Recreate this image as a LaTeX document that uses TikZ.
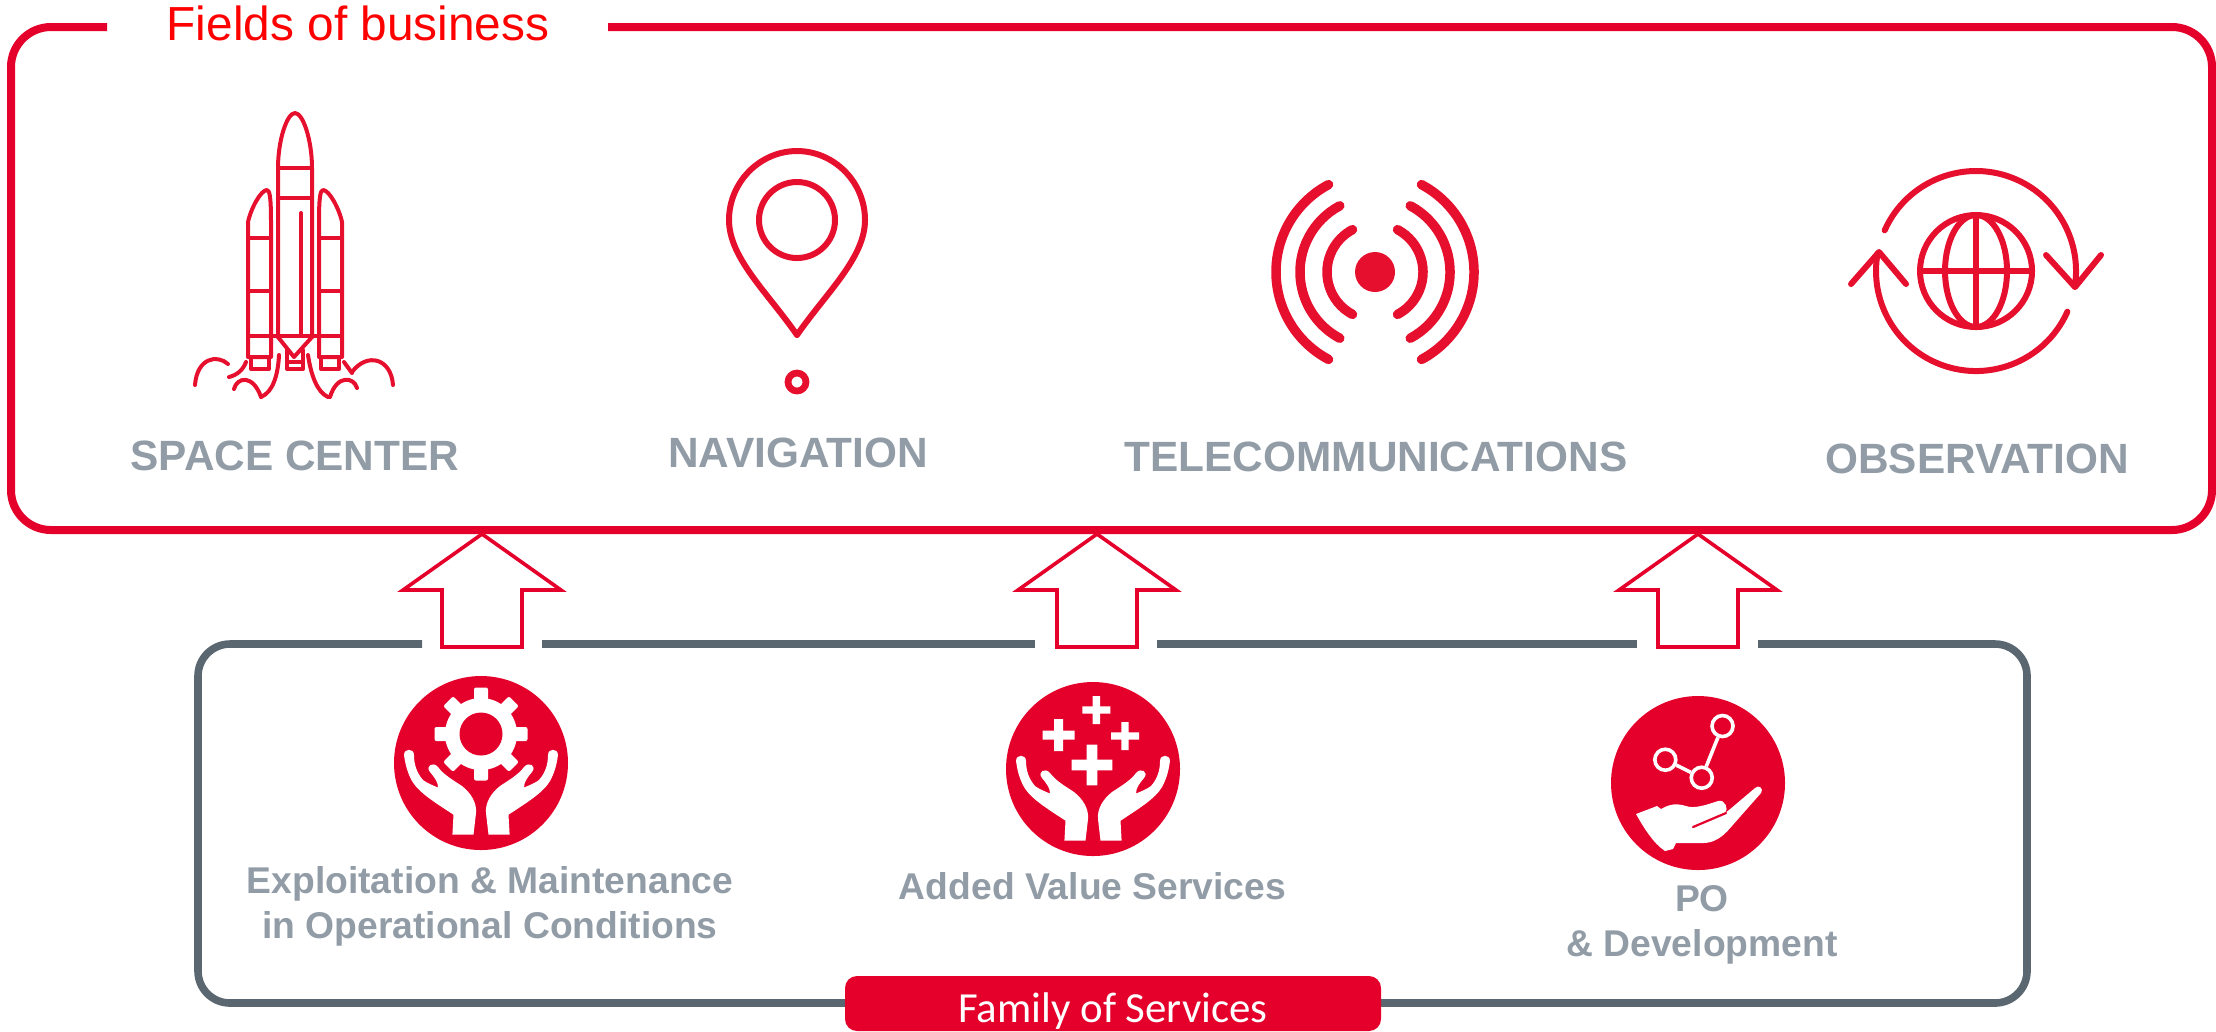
\documentclass[tikz,border=0pt]{standalone}
\usepackage{fontspec}
\setmainfont{Liberation Sans}
\newfontfamily\calibrifont{Carlito}
\usepackage{tikz}
\definecolor{brandred}{HTML}{E4002B}
\definecolor{iconred}{HTML}{E60F2D}
\definecolor{framegrey}{HTML}{5B6770}
\definecolor{labelgrey}{HTML}{919CA6}
\newcommand\uparrowblock[1]{%
\draw[arrowline] (#1) ++(0,0) -- ++(79,56) -- ++(-39,0) -- ++(0,57) -- ++(-80,0) -- ++(0,-57) -- ++(-39,0) -- cycle;
}
\newcommand\openhand{%
\fill[white] (-28.6,71.7) -- (-27.5,51.7) .. controls (-45,40) and (-62,30) .. (-69,18) .. controls (-75,7) and (-76,-2) .. (-77,-8) .. controls (-77,-15) and (-67,-15) .. (-67,-8) .. controls (-67,2) and (-64,10) .. (-58,17) .. controls (-54,20) and (-49,22) .. (-43,24.5) .. controls (-43,19) and (-46,15) .. (-51,9) .. controls (-56,3) and (-48,-2) .. (-43,4) .. controls (-37,12) and (-28,17) .. (-19,23) .. controls (-10,30) and (-4,40) .. (-5,50) -- (-7.5,71.7) -- cycle;
}
\newcommand\twohands{%
\openhand
\begin{scope}[xscale=-1]\openhand\end{scope}
}
\newcommand\plussign[3]{%
\fill[white,shift={(#1)}] (-#2,-#3) rectangle (#2,#3) (-#3,-#2) rectangle (#3,#2);
}
\newcommand\booster[1]{%
\begin{scope}[xscale=#1]
	\draw[iconline] (-47,222) .. controls (-44,208) and (-34,190) .. (-28,190) .. controls (-25,190) and (-24,200) .. (-24,222) -- (-24,357) -- (-47,357) -- cycle;
	\draw[iconline] (-47,238) -- (-24,238) (-47,291) -- (-24,291);
	\draw[iconline] (-44,357) -- (-44,369) -- (-26,369) -- (-26,357);
\end{scope}
}

\begin{document}
\begin{tikzpicture}[x=0.1mm,y=-0.1mm,
	redframe/.style={draw=brandred,line width=0.8mm},
	greyframe/.style={draw=framegrey,line width=0.76mm},
	arrowline/.style={draw=brandred,fill=white,line width=0.36mm,line join=miter},
	iconline/.style={draw=iconred,line width=0.4mm,line cap=round,line join=round},
	wideline/.style={draw=iconred,line width=0.6mm,line cap=round,line join=round},
	waveline/.style={draw=iconred,line width=0.95mm,line cap=round},
	fieldlabel/.style={anchor=base,inner sep=0pt,text=labelgrey,font=\bfseries\fontsize{12.05}{14}\selectfont},
	servicelabel/.style={anchor=base,inner sep=0pt,text=labelgrey,align=center,font=\bfseries\fontsize{10.6}{12.63}\selectfont},
	ringnode/.style={circle,draw=white,line width=0.36mm,inner sep=0pt,minimum size=2.1mm}]
	\useasboundingbox (0,0) rectangle (2216,1031);
	
	% block arrows first, the frames go over their tips
	\uparrowblock{482,534}
	\uparrowblock{1097,534}
	\uparrowblock{1698,534}
	
	%% frames
	\draw[redframe,rounded corners=4mm] (107,27) -- (11,27) -- (11,530) -- (2212,530) -- (2212,27) -- (608,27);
	\node[anchor=base,inner sep=0pt,text=red,font=\fontsize{13.6}{16}\selectfont] (fieldstitle) at (358,40.6) {Fields of business};
	\draw[greyframe,rounded corners=3.2mm] (1758,644) -- (2027,644) -- (2027,1003) -- (198,1003) -- (198,644) -- (422,644);
	\draw[greyframe] (542,644) -- (1035,644);
	\draw[greyframe] (1157,644) -- (1637,644);
	\node[fill=brandred,text=white,rounded corners=1.2mm,minimum width=53.6mm,minimum height=5.5mm,inner sep=0pt,text height=4.4mm,text depth=0.7mm,font=\calibrifont\fontsize{12.2}{14}\selectfont] (familybox) at (1113,1003.5) {Family of Services};
	
	%% rocket
	\begin{scope}[xshift=295*0.1mm]
		\draw[iconline] (-17,337) -- (-17,168) .. controls (-17,140) and (-8,113) .. (0,113) .. controls (8,113) and (17,140) .. (17,168) -- (17,337);
		\draw[iconline] (-17,168) -- (17,168) (-17,198) -- (17,198) (6,213) -- (6,335) (-47,336) -- (47,336);
		\draw[iconline] (-17,337) -- (-1,357) -- (17,337);
		\draw[iconline] (-8,350) -- (-8,369) -- (8,369) -- (8,350) (-8,362) -- (8,362);
		\booster{1}
		\booster{-1}
		% flames
		\draw[iconline] (-100,385) .. controls (-98,358) and (-78,354) .. (-67,364);
		\draw[iconline] (-66,377) .. controls (-58,375) and (-52,370) .. (-49,362);
		\draw[iconline] (-61,389) .. controls (-58,377) and (-42,374) .. (-34,397);
		\draw[iconline] (-34,397) .. controls (-22,392) and (-17,375) .. (-16,355);
		\draw[iconline] (98,385) .. controls (96,358) and (72,352) .. (57,372);
		\draw[iconline] (49,362) -- (57,373);
		\draw[iconline] (62,388) .. controls (59,377) and (42,374) .. (35,397);
		\draw[iconline] (33,397) .. controls (22,392) and (16,375) .. (13,355);
	\end{scope}
	
	%% pin
	\draw[wideline] (797,335) .. controls (768,293) and (729,258) .. (729,220) .. controls (729,182) and (760,151) .. (797,151) .. controls (834,151) and (865,182) .. (865,220) .. controls (865,258) and (826,293) .. (797,335);
	\draw[wideline] (797,220) circle (38);
	\draw[iconline,line width=0.68mm] (797,382) circle (9);
	
	%% antenna
	\fill[iconred] (1375,272) circle (20);
	\foreach \waveR in {48,75,99} {
		\draw[waveline] ([shift={(-62:\waveR)}]1375,272) arc (-62:62:\waveR);
		\draw[waveline] ([shift={(118:\waveR)}]1375,272) arc (118:242:\waveR);
	}
	
	%% globe
	\draw[wideline] (1976,271) circle (56);
	\draw[wideline] (1976,271) ellipse (31 and 56);
	\draw[wideline] (1976,215) -- (1976,327);
	\draw[wideline,line width=0.62mm,line cap=butt] (1920,271) -- (2032,271);
	\draw[wideline] ([shift={(204:100)}]1976,271) arc (204:369:100);
	\draw[wideline] (2046,255) -- (2075,287) -- (2101,255);
	\draw[wideline] ([shift={(24:100)}]1976,271) arc (24:190:100);
	\draw[wideline] (1851,284) -- (1879,252) -- (1906,284);
	
	%% field labels
	\node[fieldlabel] (spacelabel) at (295,470) {SPACE CENTER};
	\node[fieldlabel] (navlabel) at (798,467) {NAVIGATION};
	\node[fieldlabel] (telecomlabel) at (1376,471) {TELECOMMUNICATIONS};
	\node[fieldlabel] (obslabel) at (1977,473) {OBSERVATION};
	
	%% service discs
	\fill[brandred] (481,763) circle (87);
	\begin{scope}[shift={(481,763)}]
		\foreach \a in {0,45,...,315} {
			\fill[white,rotate around={\a:(0,-29)},rounded corners=0.2mm] (-7,-75.5) rectangle (7,-50);
		}
		\fill[white] (0,-29) circle (36);
		\fill[brandred] (0,-29) circle (21.5);
		\twohands
	\end{scope}
	
	\fill[brandred] (1093,769) circle (87);
	\begin{scope}[shift={(1093,769)}]
		\plussign{3.4,-59}{14}{3.7}
		\plussign{-34.4,-34}{16}{4.5}
		\plussign{32,-33}{14}{3.7}
		\plussign{-1,-4}{20.3}{5.4}
		\twohands
	\end{scope}
	
	\fill[brandred] (1698,783) circle (87);
	\begin{scope}[shift={(1698,783)}]
		\node[ringnode] (ringtop) at (24.5,-57) {};
		\node[ringnode] (ringleft) at (-32.7,-23.3) {};
		\node[ringnode] (ringmid) at (3.7,-5.3) {};
		\draw[white,line width=0.36mm] (ringleft) -- (ringmid) -- (ringtop);
		\fill[white] (-62,31) -- (-41,23) -- (-37,26) .. controls (-28,21) and (-22,20) .. (-12,23) .. controls (-4,26) and (8,22) .. (20,18) .. controls (27,16) and (31,26) .. (27,30) -- (31,27) -- (57,5) .. controls (61,1) and (66,6) .. (63,10) -- (33,44) .. controls (24,55) and (15,60) .. (5,60) -- (-22,60) -- (-25,66) -- (-33,68) .. controls (-45,60) and (-54,45) .. (-62,31) -- cycle;
		\draw[brandred,line width=0.22mm,line cap=round] (28,30) -- (-5,44);
	\end{scope}
	
	%% service labels
	\node[servicelabel] (opslabel) at (490,938) {Exploitation \& Maintenance\\in Operational Conditions};
	\node[servicelabel] (valuelabel) at (1092.5,899) {Added Value Services};
	\node[servicelabel] (devlabel) at (1702,956) {PO\\\& Development};
\end{tikzpicture}
\end{document}
